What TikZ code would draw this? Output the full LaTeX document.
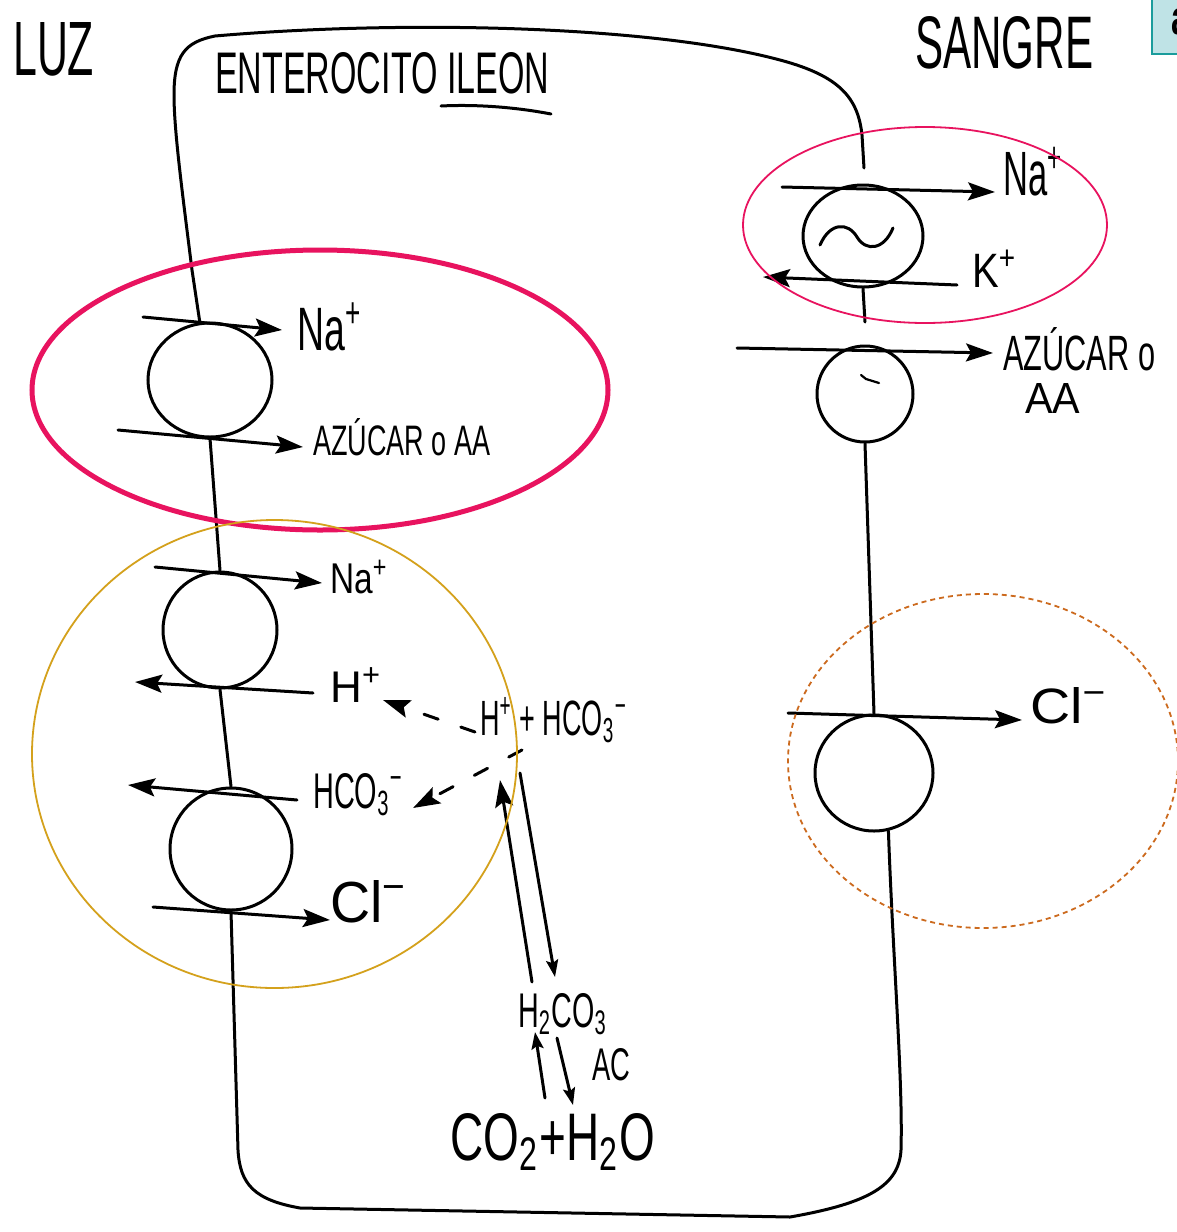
\documentclass[tikz,border=0pt]{standalone}
\usepackage{fontspec}
\setmainfont{Liberation Sans}
\usepackage{graphicx}
\usetikzlibrary{arrows.meta,shapes.geometric}
\definecolor{pinkred}{HTML}{E8135F}
\definecolor{goldc}{HTML}{D4A11C}
\definecolor{orangec}{HTML}{CC6A1E}
\definecolor{tealb}{HTML}{1A9C9C}
\definecolor{tealf}{HTML}{BFE3E6}
\newcommand{\hwtext}[3]{\resizebox{#1pt}{#2pt}{#3}}
\begin{document}
\begin{tikzpicture}[x=1pt,y=-1pt,
  memb/.style={line width=3pt, line cap=round},
  flow/.style={line width=3pt, line cap=round, -{Stealth[length=27pt,width=18pt,inset=5pt]}},
  smallflow/.style={flow, -{Stealth[length=17pt,width=12pt,inset=3pt]}},
  dflow/.style={flow, dash pattern=on 15pt off 24pt},
  carrier/.style={ellipse, draw, line width=3pt, inner sep=0pt},
  lbl/.style={inner sep=0pt, anchor=base west},
  zone/.style={ellipse, draw, inner sep=0pt, line width=1.8pt}]
\useasboundingbox (0,0) rectangle (1177,1232);
\clip (0,0) rectangle (1177,1232);
\fill[white] (0,0) rectangle (1177,1232);

% slide corner box
\node[draw=tealb, fill=tealf, line width=2pt, minimum width=60pt, minimum height=62pt, anchor=north west, inner sep=0pt] (slide) at (1151,-9) {};
\node[anchor=west, inner sep=0pt] (slidetxt) at (1171,22) {\hwtext{18}{26}{\bfseries a}};

% carriers
\node[carrier, minimum width=124pt, minimum height=114pt] (t1) at (210,380) {};
\node[carrier, minimum width=114pt, minimum height=116pt] (t2) at (220,630) {};
\node[carrier, minimum width=122pt, minimum height=122pt] (t3) at (231,849) {};
\node[carrier, minimum width=120pt, minimum height=102pt] (p1) at (863,236) {};
\node[carrier, minimum width=96pt, minimum height=96pt] (p2) at (865,394) {};
\node[carrier, minimum width=118pt, minimum height=116pt] (p3) at (874,773) {};

% membrane / cell outline
\coordinate (ptop) at (864,168);
\coordinate (pmid) at (865,322);
\draw[memb] (t1.100) -- (192,270) .. controls (182,190) and (174,130) .. (174,95)
  .. controls (174,55) and (185,42) .. (215,36)
  .. controls (400,20) and (650,25) .. (780,60)
  .. controls (840,76) and (858,98) .. (862,135) -- (ptop);
\draw[memb] (p1.south) -- (pmid);
\draw[memb] (t1.south) -- (t2.north);
\draw[memb] (t2.south) -- (t3.north);
\draw[memb] (p2.south) -- (p3.north);
\draw[memb] (p3.-76) .. controls (893,960) and (903,1080) .. (901,1150)
  .. controls (899,1185) and (870,1203) .. (790,1217) -- (300,1208)
  .. controls (255,1200) and (240,1185) .. (238,1150) -- (t3.south);

% marks inside carriers
\draw[line width=3pt, line cap=round] (820,245) .. controls (830,222) and (848,222) .. (857,237)
  .. controls (866,252) and (884,250) .. (893,228);
\draw[line width=2.2pt, line cap=round] (861,375) -- (866,379) -- (879,383);

% title underline
\draw[line width=3pt, line cap=round] (441,106) .. controls (480,104) and (520,108) .. (551,114);

% labels
\node[lbl] (luz) at (13,75) {\hwtext{81}{53}{LUZ}};
\node[lbl] (ent) at (215,93) {\hwtext{334}{41}{ENTEROCITO ILEON}};
\node[lbl] (sangre) at (915,68) {\hwtext{178}{52}{SANGRE}};
\node[lbl] (naA) at (297,350) {\hwtext{65}{47}{Na\textsuperscript{+}}};
\node[lbl] (azA) at (313,455) {\hwtext{177}{37}{AZÚCAR o AA}};
\node[lbl] (naB) at (330,593) {\hwtext{58}{33}{Na\textsuperscript{+}}};
\node[lbl] (hA) at (330,702) {\hwtext{52}{34}{H\textsuperscript{+}}};
\node[lbl] (hco) at (313,808) {\hwtext{90}{35}{HCO\textsubscript{3}\textsuperscript{−}}};
\node[lbl] (clA) at (330,922) {\hwtext{78}{42}{Cl\textsuperscript{−}}};
\node[lbl] (mid) at (480,735) {\hwtext{147}{38}{H\textsuperscript{+} + HCO\textsubscript{3}\textsuperscript{−}}};
\node[lbl] (hcarb) at (518,1027) {\hwtext{89}{34}{H\textsubscript{2}CO\textsubscript{3}}};
\node[lbl] (ac) at (592,1080) {\hwtext{38}{32}{AC}};
\node[lbl] (coh) at (450,1160) {\hwtext{205}{47}{CO\textsubscript{2}+H\textsubscript{2}O}};
\node[lbl] (naC) at (1003,195) {\hwtext{60}{48}{Na\textsuperscript{+}}};
\node[lbl] (kA) at (972,287) {\hwtext{45}{37}{K\textsuperscript{+}}};
\node[lbl] (azB) at (1003,370) {\hwtext{152}{43}{AZÚCAR o}};
\node[lbl] (aaB) at (1025,413) {\hwtext{55}{30}{AA}};
\node[lbl] (clB) at (1030,723) {\hwtext{78}{36}{Cl\textsuperscript{−}}};

% flows (left membrane)
\coordinate (a1s) at (143,317); \coordinate (a1e) at (282,330);
\coordinate (a2s) at (118,430); \coordinate (a2e) at (303,447);
\coordinate (a3s) at (155,567); \coordinate (a3e) at (322,583);
\coordinate (a4s) at (313,693); \coordinate (a4e) at (135,682);
\coordinate (a5s) at (297,800); \coordinate (a5e) at (128,785);
\coordinate (a6s) at (153,907); \coordinate (a6e) at (330,920);
\draw[flow] (a1s) -- (a1e);
\draw[flow] (a2s) -- (a2e);
\draw[flow] (a3s) -- (a3e);
\draw[flow] (a4s) -- (a4e);
\draw[flow] (a5s) -- (a5e);
\draw[flow] (a6s) -- (a6e);

% intracellular reactions
\coordinate (d1s) at (475,732); \coordinate (d1e) at (383,700);
\coordinate (d2s) at (522,750); \coordinate (d2e) at (413,808);
\draw[dflow] (d1s) -- (d1e);
\draw[dflow] (d2s) -- (d2e);
\coordinate (u1s) at (532,982); \coordinate (u1e) at (500,780);
\coordinate (u2s) at (520,773); \coordinate (u2e) at (555,977);
\coordinate (u3s) at (545,1098); \coordinate (u3e) at (535,1032);
\coordinate (u4s) at (557,1038); \coordinate (u4e) at (573,1105);
\draw[flow] (u1s) -- (u1e);
\draw[smallflow] (u2s) -- (u2e);
\draw[smallflow] (u3s) -- (u3e);
\draw[smallflow] (u4s) -- (u4e);

% flows (basolateral membrane)
\coordinate (r1s) at (782,187); \coordinate (r1e) at (995,192);
\coordinate (r2s) at (957,285); \coordinate (r2e) at (763,277);
\coordinate (r3s) at (737,348); \coordinate (r3e) at (993,353);
\coordinate (r4s) at (788,713); \coordinate (r4e) at (1022,720);
\draw[flow] (r1s) -- (r1e);
\draw[flow] (r2s) -- (r2e);
\draw[flow] (r3s) -- (r3e);
\draw[flow] (r4s) -- (r4e);

% highlight zones
\node[zone, draw=pinkred, line width=5pt, minimum width=576pt, minimum height=280pt] (zoneA) at (320,390) {};
\node[zone, draw=pinkred, minimum width=364pt, minimum height=196pt] (zoneB) at (925,225) {};
\node[zone, draw=goldc, minimum width=485pt, minimum height=468pt] (zoneC) at (274.5,754) {};
\node[zone, draw=orangec, dash pattern=on 5pt off 4pt, minimum width=390pt, minimum height=334pt] (zoneD) at (983,761) {};
\end{tikzpicture}
\end{document}
